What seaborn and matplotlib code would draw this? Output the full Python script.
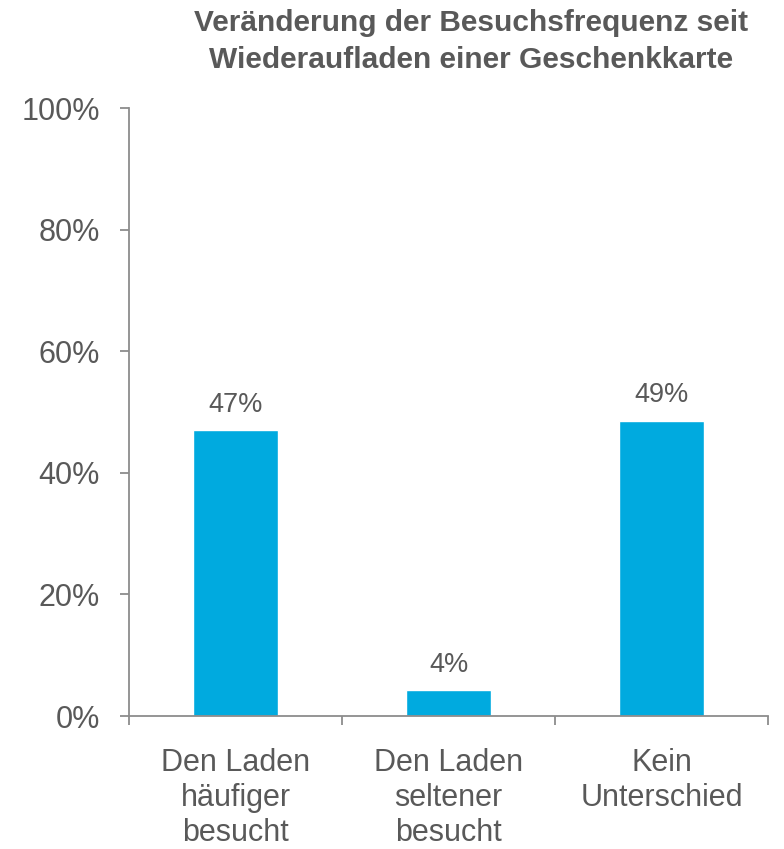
import matplotlib
matplotlib.use("Agg")
import matplotlib.pyplot as plt
import pandas as pd
import seaborn as sns

# Daten
kategorien = ["Den Laden\nhäufiger\nbesucht", "Den Laden\nseltener\nbesucht", "Kein\nUnterschied"]
anteile = [0.470, 0.042, 0.486]
beschriftung = ["47%", "4%", "49%"]
titel = "Veränderung der Besuchsfrequenz seit\nWiederaufladen einer Geschenkkarte"

sns.set_style("white")
plt.rcParams["font.family"] = ["Liberation Sans", "DejaVu Sans"]

grau = "#595959"
achse = "#8c8c8c"
blau = "#00AADF"

df = pd.DataFrame({"kat": kategorien, "wert": anteile})

fig = plt.figure(figsize=(7.84, 8.49), dpi=100)
ax = fig.add_axes([129 / 784, 1 - 716 / 849, (768 - 129) / 784, (716 - 108) / 849])

sns.barplot(data=df, x="kat", y="wert", color=blau, width=0.4, saturation=1, ax=ax)

ax.set_xlim(-0.5, 2.5)
ax.set_ylim(0, 1)
ax.set_yticks([0, 0.2, 0.4, 0.6, 0.8, 1.0])
ax.set_yticklabels(["0%", "20%", "40%", "60%", "80%", "100%"])
ax.set_xlabel("")
ax.set_ylabel("")

# Kategorie-Trennstriche unten
ax.set_xticks([-0.5, 0.5, 1.5, 2.5], minor=True)
ax.tick_params(axis="x", which="major", bottom=False, length=0, pad=23, labelsize=22, labelcolor=grau)
ax.tick_params(axis="x", which="minor", bottom=True, length=6.5, width=1.3, color=achse, direction="out")
ax.tick_params(axis="y", left=True, length=6.5, width=1.3, color=achse, pad=14.5, labelsize=22, labelcolor=grau)
for lab in ax.get_xticklabels():
    lab.set_linespacing(1.22)

sns.despine(ax=ax)
for s in ["left", "bottom"]:
    ax.spines[s].set_color(achse)
    ax.spines[s].set_linewidth(1.3)

ax.bar_label(ax.containers[0], labels=beschriftung, padding=9, fontsize=19.5, color=grau)

fig.text(471 / 784, 1 - 9 / 849, titel, ha="center", va="top", fontsize=21.5,
         fontweight="bold", color=grau, linespacing=1.4)

fig.savefig("out.png", dpi=100)
